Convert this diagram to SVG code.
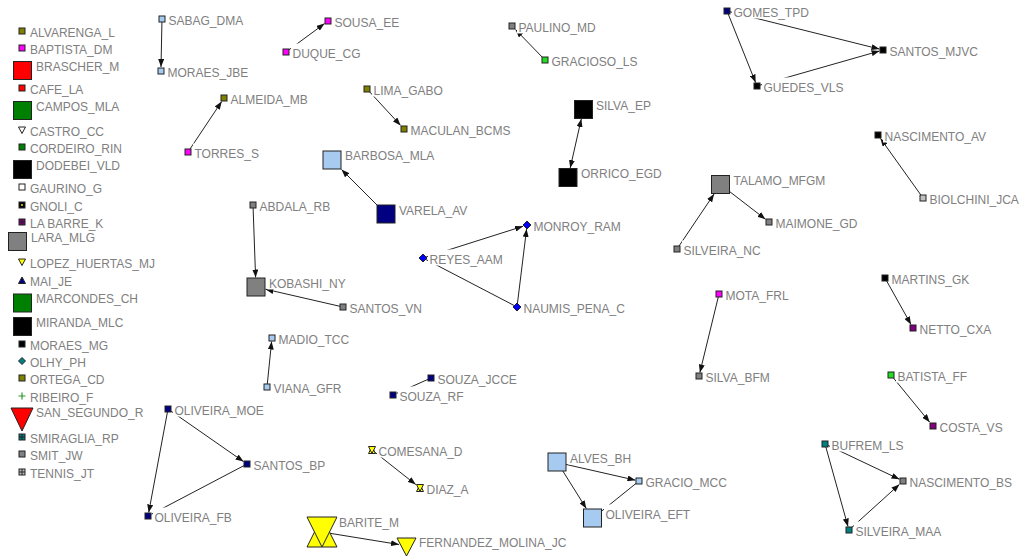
<svg xmlns="http://www.w3.org/2000/svg" width="1022" height="556" viewBox="0 0 1022 556">
<defs>
<marker id="ah" viewBox="0 0 8 6" markerWidth="8" markerHeight="6" refX="8" refY="3" markerUnits="userSpaceOnUse" orient="auto-start-reverse"><path d="M0,0 L8,3 L0,6 Z" fill="#111"/></marker>
</defs>
<style>
.t{font-family:"Liberation Sans",Arial,sans-serif;font-size:12px;fill:#808080}
.b{fill:#fff}
.n{stroke:#222;stroke-width:1}
.e{stroke:#222;stroke-width:1;fill:none}
.a{marker-end:url(#ah)}
.s{marker-start:url(#ah)}
.g{stroke:#222;stroke-width:1}
.lb{fill:#a6caf0}.nv{fill:#000080}.mg{fill:#ff00ff}.ol{fill:#808000}.gy{fill:#808080}.lg{fill:#c0c0c0}
.bk{fill:#000}.gr{fill:#22dd22}.pu{fill:#800080}.tl{fill:#008080}.bl{fill:#0000ff}.ye{fill:#ffff00}
.rd{fill:#ff0000}.dg{fill:#008000}.wh{fill:#fff}
</style>
<rect width="1022" height="556" fill="#fff"/>

<g id="connectors">
<line class="e a" x1="162" y1="19" x2="161" y2="67"/>
<line class="e a" x1="286" y1="52" x2="324.5" y2="23.6"/>
<line class="e a" x1="188" y1="152" x2="221.7" y2="101.5"/>
<line class="e a" x1="367" y1="89" x2="400.6" y2="125.4"/>
<line class="e a" x1="386" y1="214" x2="341.5" y2="169.5"/>
<line class="e a" x1="545" y1="60" x2="515.5" y2="29.6"/>
<line class="e a s" x1="581.3" y1="119" x2="570.2" y2="168"/>
<line class="e a" x1="727" y1="11" x2="879.5" y2="49.1"/>
<line class="e a" x1="727" y1="11" x2="755.6" y2="82.5"/>
<line class="e a" x1="757" y1="86" x2="879.5" y2="51"/>
<line class="e a" x1="923" y1="198" x2="880.5" y2="138.5"/>
<line class="e a" x1="720.5" y1="184.5" x2="765.5" y2="219.3"/>
<line class="e a" x1="677" y1="249" x2="714.1" y2="194"/>
<line class="e a" x1="253" y1="205" x2="255.6" y2="277.5"/>
<line class="e a" x1="343" y1="307" x2="265.5" y2="289.2"/>
<line class="e a" x1="423" y1="258" x2="523" y2="226.3"/>
<line class="e a" x1="517" y1="307" x2="526.6" y2="229"/>
<line class="e" x1="517" y1="307" x2="423" y2="258"/>
<line class="e a" x1="719" y1="294" x2="699.9" y2="372.5"/>
<line class="e a" x1="885" y1="278" x2="911" y2="324.5"/>
<line class="e a" x1="891" y1="375" x2="929.7" y2="422.2"/>
<line class="e a" x1="825" y1="444" x2="899.5" y2="479.3"/>
<line class="e a" x1="825" y1="444" x2="848" y2="526.5"/>
<line class="e a" x1="849" y1="530" x2="899.4" y2="484.4"/>
<line class="e a" x1="267" y1="387" x2="271.6" y2="341.5"/>
<line class="e" x1="431" y1="378" x2="396.5" y2="393.4"/>
<line class="e a" x1="168" y1="409" x2="148.7" y2="512.5"/>
<line class="e a" x1="168" y1="409" x2="243.5" y2="461.6"/>
<line class="e" x1="247" y1="464" x2="151.5" y2="514.2"/>
<line class="e a" x1="372" y1="450" x2="415.8" y2="484.6"/>
<line class="e a" x1="322" y1="532" x2="399" y2="544.5"/>
<line class="e a" x1="557.5" y1="462.5" x2="635.5" y2="480.2"/>
<line class="e a" x1="557.5" y1="462.5" x2="586.3" y2="508.5"/>
<line class="e" x1="639" y1="481" x2="602" y2="510.8"/>
</g>

<g id="legend">
<g id="ALVARENGA_L"><rect class="n ol" x="19" y="28" width="6" height="6"/><text class="t" x="30" y="36.5">ALVARENGA_L</text></g>
<g id="BAPTISTA_DM"><rect class="n mg" x="19" y="45" width="6" height="6"/><text class="t" x="30" y="53.5">BAPTISTA_DM</text></g>
<g id="BRASCHER_M"><rect class="n rd" x="13.5" y="61.5" width="18" height="18"/><text class="t" x="36" y="70.5">BRASCHER_M</text></g>
<g id="CAFE_LA"><rect class="n rd" x="19" y="85" width="6" height="6"/><text class="t" x="30" y="93.5">CAFE_LA</text></g>
<g id="CAMPOS_MLA"><rect class="n dg" x="13.5" y="101.5" width="18" height="18"/><text class="t" x="36" y="110.5">CAMPOS_MLA</text></g>
<g id="CASTRO_CC"><polygon class="n wh" points="18.5,127 25.5,127 22,133.5"/><text class="t" x="30" y="135.5">CASTRO_CC</text></g>
<g id="CORDEIRO_RIN"><rect class="n dg" x="19" y="144" width="6" height="6"/><text class="t" x="30" y="152.5">CORDEIRO_RIN</text></g>
<g id="DODEBEI_VLD"><rect class="n bk" x="13.5" y="160.5" width="18" height="18"/><text class="t" x="36" y="169.5">DODEBEI_VLD</text></g>
<g id="GAURINO_G"><rect class="n wh" x="19" y="184" width="6" height="6"/><text class="t" x="30" y="192.5">GAURINO_G</text></g>
<g id="GNOLI_C"><rect class="n bk" x="19" y="202" width="6" height="6"/><rect x="21" y="204" width="2" height="2" fill="#b0b000"/><text class="t" x="30" y="210.5">GNOLI_C</text></g>
<g id="LA_BARRE_K"><rect class="n pu" x="19" y="219" width="6" height="6"/><path class="g" d="M22,219V225M19,222H25"/><text class="t" x="30" y="227.5">LA BARRE_K</text></g>
<g id="LARA_MLG"><rect class="n gy" x="8.5" y="232.5" width="18" height="18"/><text class="t" x="31" y="241.5">LARA_MLG</text></g>
<g id="LOPEZ_HUERTAS_MJ"><polygon class="n ye" points="18.5,259 25.5,259 22,265.5"/><text class="t" x="30" y="267.5">LOPEZ_HUERTAS_MJ</text></g>
<g id="MAI_JE"><polygon class="n nv" points="18.5,283.5 25.5,283.5 22,277"/><text class="t" x="30" y="285.5">MAI_JE</text></g>
<g id="MARCONDES_CH"><rect class="n dg" x="13.5" y="294" width="18" height="18"/><text class="t" x="36" y="303">MARCONDES_CH</text></g>
<g id="MIRANDA_MLC"><rect class="n bk" x="13.5" y="317.5" width="18" height="18"/><text class="t" x="36" y="326.5">MIRANDA_MLC</text></g>
<g id="MORAES_MG"><rect class="n bk" x="19" y="341" width="6" height="6"/><text class="t" x="30" y="349.5">MORAES_MG</text></g>
<g id="OLHY_PH"><polygon class="n tl" points="22,357.5 25.5,361 22,364.5 18.5,361"/><text class="t" x="30" y="366.5">OLHY_PH</text></g>
<g id="ORTEGA_CD"><rect class="n ol" x="19" y="375" width="6" height="6"/><text class="t" x="30" y="383.5">ORTEGA_CD</text></g>
<g id="RIBEIRO_F"><path d="M22,392.5V399.5M18.5,396H25.5" stroke="#2a9a2a" stroke-width="1.2"/><text class="t" x="30" y="401.5">RIBEIRO_F</text></g>
<g id="SAN_SEGUNDO_R"><polygon class="n rd" points="11,408 33,408 22,431"/><text class="t" x="36" y="417">SAN_SEGUNDO_R</text></g>
<g id="SMIRAGLIA_RP"><rect class="n tl" x="19" y="434" width="6" height="6"/><path class="g" d="M22,434V440M19,437H25"/><text class="t" x="30" y="442.5">SMIRAGLIA_RP</text></g>
<g id="SMIT_JW"><rect class="n gy" x="19" y="451" width="6" height="6"/><text class="t" x="30" y="459.5">SMIT_JW</text></g>
<g id="TENNIS_JT"><rect class="n lg" x="19" y="469" width="6" height="6"/><path class="g" d="M22,469V475M19,472H25"/><text class="t" x="30" y="477.5">TENNIS_JT</text></g>
</g>

<g id="nodes">
<g id="SABAG_DMA"><rect class="n lb" x="159" y="16" width="6" height="6"/><rect class="b" x="167" y="10.5" width="70.5" height="16"/><text class="t" x="168.5" y="24.5">SABAG_DMA</text></g>
<g id="MORAES_JBE"><rect class="n lb" x="158" y="68" width="6" height="6"/><rect class="b" x="166" y="62.5" width="78" height="16"/><text class="t" x="167.5" y="76.5">MORAES_JBE</text></g>
<g id="SOUSA_EE"><rect class="n mg" x="325" y="18" width="6" height="6"/><rect class="b" x="333" y="12.5" width="63" height="16"/><text class="t" x="334.5" y="26.5">SOUSA_EE</text></g>
<g id="DUQUE_CG"><rect class="n mg" x="283" y="49" width="6" height="6"/><rect class="b" x="291" y="43.5" width="63" height="16"/><text class="t" x="292.5" y="57.5">DUQUE_CG</text></g>
<g id="ALMEIDA_MB"><rect class="n ol" x="221" y="95" width="6" height="6"/><rect class="b" x="229" y="89.5" width="78" height="16"/><text class="t" x="230.5" y="103.5">ALMEIDA_MB</text></g>
<g id="TORRES_S"><rect class="n mg" x="185" y="149" width="6" height="6"/><rect class="b" x="193" y="143.5" width="63" height="16"/><text class="t" x="194.5" y="157.5">TORRES_S</text></g>
<g id="LIMA_GABO"><rect class="n ol" x="364" y="86" width="6" height="6"/><rect class="b" x="372" y="80.5" width="70.5" height="16"/><text class="t" x="373.5" y="94.5">LIMA_GABO</text></g>
<g id="MACULAN_BCMS"><rect class="n ol" x="401" y="126" width="6" height="6"/><rect class="b" x="409" y="120.5" width="93" height="16"/><text class="t" x="410.5" y="134.5">MACULAN_BCMS</text></g>
<g id="BARBOSA_MLA"><rect class="n lb" x="323" y="151" width="18" height="18"/><rect class="b" x="343.5" y="146.3" width="85.5" height="16"/><text class="t" x="345" y="160.3">BARBOSA_MLA</text></g>
<g id="VARELA_AV"><rect class="n nv" x="377" y="205" width="18" height="18"/><rect class="b" x="397.5" y="200.5" width="70.5" height="16"/><text class="t" x="399" y="214.5">VARELA_AV</text></g>
<g id="PAULINO_MD"><rect class="n gy" x="509" y="23" width="6" height="6"/><rect class="b" x="517" y="17.5" width="78" height="16"/><text class="t" x="518.5" y="31.5">PAULINO_MD</text></g>
<g id="GRACIOSO_LS"><rect class="n gr" x="542" y="57" width="6" height="6"/><rect class="b" x="550" y="51.5" width="85.5" height="16"/><text class="t" x="551.5" y="65.5">GRACIOSO_LS</text></g>
<g id="SILVA_EP"><rect class="n bk" x="574.5" y="100.5" width="18" height="18"/><rect class="b" x="594.5" y="96" width="63" height="16"/><text class="t" x="596" y="110">SILVA_EP</text></g>
<g id="ORRICO_EGD"><rect class="n bk" x="559" y="168.5" width="18" height="18"/><rect class="b" x="579.5" y="164" width="78" height="16"/><text class="t" x="581" y="178">ORRICO_EGD</text></g>
<g id="GOMES_TPD"><rect class="n nv" x="724" y="8" width="6" height="6"/><rect class="b" x="732" y="2.5" width="70.5" height="16"/><text class="t" x="733.5" y="16.5">GOMES_TPD</text></g>
<g id="SANTOS_MJVC"><rect class="n bk" x="880" y="47" width="6" height="6"/><rect class="b" x="888" y="41.5" width="85.5" height="16"/><text class="t" x="889.5" y="55.5">SANTOS_MJVC</text></g>
<g id="GUEDES_VLS"><rect class="n bk" x="754" y="83" width="6" height="6"/><rect class="b" x="762" y="77.5" width="78" height="16"/><text class="t" x="763.5" y="91.5">GUEDES_VLS</text></g>
<g id="NASCIMENTO_AV"><rect class="n bk" x="875" y="132" width="6" height="6"/><rect class="b" x="883" y="126.5" width="100.5" height="16"/><text class="t" x="884.5" y="140.5">NASCIMENTO_AV</text></g>
<g id="BIOLCHINI_JCA"><rect class="n lg" x="920" y="195" width="6" height="6"/><rect class="b" x="928" y="189.5" width="94" height="16"/><text class="t" x="929.5" y="203.5">BIOLCHINI_JCA</text></g>
<g id="TALAMO_MFGM"><rect class="n gy" x="711.5" y="175.5" width="18" height="18"/><rect class="b" x="732" y="171" width="85.5" height="16"/><text class="t" x="733.5" y="185">TALAMO_MFGM</text></g>
<g id="MAIMONE_GD"><rect class="n gy" x="766" y="219" width="6" height="6"/><rect class="b" x="774" y="213.5" width="78" height="16"/><text class="t" x="775.5" y="227.5">MAIMONE_GD</text></g>
<g id="SILVEIRA_NC"><rect class="n gy" x="674" y="246" width="6" height="6"/><rect class="b" x="682" y="240.5" width="85.5" height="16"/><text class="t" x="683.5" y="254.5">SILVEIRA_NC</text></g>
<g id="ABDALA_RB"><rect class="n gy" x="250" y="202" width="6" height="6"/><rect class="b" x="258" y="196.5" width="70.5" height="16"/><text class="t" x="259.5" y="210.5">ABDALA_RB</text></g>
<g id="KOBASHI_NY"><rect class="n gy" x="247" y="278" width="18" height="18"/><rect class="b" x="267.5" y="273.5" width="78" height="16"/><text class="t" x="269" y="287.5">KOBASHI_NY</text></g>
<g id="SANTOS_VN"><rect class="n gy" x="340" y="304" width="6" height="6"/><rect class="b" x="348" y="298.5" width="70.5" height="16"/><text class="t" x="349.5" y="312.5">SANTOS_VN</text></g>
<g id="REYES_AAM"><polygon class="n bl" points="423,254 427,258 423,262 419,258"/><rect class="b" x="428" y="249.5" width="70.5" height="16"/><text class="t" x="429.5" y="263.5">REYES_AAM</text></g>
<g id="MONROY_RAM"><polygon class="n bl" points="527,221 531,225 527,229 523,225"/><rect class="b" x="532" y="216.5" width="78" height="16"/><text class="t" x="533.5" y="230.5">MONROY_RAM</text></g>
<g id="NAUMIS_PENA_C"><polygon class="n bl" points="517,303 521,307 517,311 513,307"/><rect class="b" x="522" y="298.5" width="100.5" height="16"/><text class="t" x="523.5" y="312.5">NAUMIS_PENA_C</text></g>
<g id="MOTA_FRL"><rect class="n mg" x="716" y="291" width="6" height="6"/><rect class="b" x="724" y="285.5" width="63" height="16"/><text class="t" x="725.5" y="299.5">MOTA_FRL</text></g>
<g id="SILVA_BFM"><rect class="n gy" x="696" y="373" width="6" height="6"/><rect class="b" x="704" y="367.5" width="70.5" height="16"/><text class="t" x="705.5" y="381.5">SILVA_BFM</text></g>
<g id="MARTINS_GK"><rect class="n bk" x="882" y="275" width="6" height="6"/><rect class="b" x="890" y="269.5" width="78" height="16"/><text class="t" x="891.5" y="283.5">MARTINS_GK</text></g>
<g id="NETTO_CXA"><rect class="n pu" x="910" y="325" width="6" height="6"/><rect class="b" x="918" y="319.5" width="70.5" height="16"/><text class="t" x="919.5" y="333.5">NETTO_CXA</text></g>
<g id="BATISTA_FF"><rect class="n gr" x="888" y="372" width="6" height="6"/><rect class="b" x="896" y="366.5" width="78" height="16"/><text class="t" x="897.5" y="380.5">BATISTA_FF</text></g>
<g id="COSTA_VS"><rect class="n pu" x="930" y="423" width="6" height="6"/><rect class="b" x="938" y="417.5" width="63" height="16"/><text class="t" x="939.5" y="431.5">COSTA_VS</text></g>
<g id="MADIO_TCC"><rect class="n lb" x="269" y="335" width="6" height="6"/><rect class="b" x="277" y="329.5" width="70.5" height="16"/><text class="t" x="278.5" y="343.5">MADIO_TCC</text></g>
<g id="VIANA_GFR"><rect class="n lb" x="264" y="384" width="6" height="6"/><rect class="b" x="272" y="378.5" width="70.5" height="16"/><text class="t" x="273.5" y="392.5">VIANA_GFR</text></g>
<g id="SOUZA_JCCE"><rect class="n nv" x="428" y="375" width="6" height="6"/><rect class="b" x="436" y="369.5" width="78" height="16"/><text class="t" x="437.5" y="383.5">SOUZA_JCCE</text></g>
<g id="SOUZA_RF"><rect class="n nv" x="390" y="392" width="6" height="6"/><rect class="b" x="398" y="386.5" width="63" height="16"/><text class="t" x="399.5" y="400.5">SOUZA_RF</text></g>
<g id="OLIVEIRA_MOE"><rect class="n nv" x="165" y="406" width="6" height="6"/><rect class="b" x="173" y="400.5" width="93" height="16"/><text class="t" x="174.5" y="414.5">OLIVEIRA_MOE</text></g>
<g id="SANTOS_BP"><rect class="n nv" x="244" y="461" width="6" height="6"/><rect class="b" x="252" y="455.5" width="70.5" height="16"/><text class="t" x="253.5" y="469.5">SANTOS_BP</text></g>
<g id="OLIVEIRA_FB"><rect class="n nv" x="145" y="513" width="6" height="6"/><rect class="b" x="153" y="507.5" width="85.5" height="16"/><text class="t" x="154.5" y="521.5">OLIVEIRA_FB</text></g>
<g id="COMESANA_D"><polygon class="n ye" points="368.5,453.5 375.5,453.5 372,446.5"/><polygon class="n ye" points="368.5,446.5 375.5,446.5 372,453.5"/><rect class="b" x="377" y="441.5" width="78" height="16"/><text class="t" x="378.5" y="455.5">COMESANA_D</text></g>
<g id="DIAZ_A"><polygon class="n ye" points="416.5,491.5 423.5,491.5 420,484.5"/><polygon class="n ye" points="416.5,484.5 423.5,484.5 420,491.5"/><rect class="b" x="425" y="479.5" width="48" height="16"/><text class="t" x="426.5" y="493.5">DIAZ_A</text></g>
<g id="BARITE_M"><polygon class="n ye" points="307,547 337,547 322,517"/><polygon class="n ye" points="307,517 337,517 322,547"/><rect class="b" x="337.5" y="512.5" width="63" height="16"/><text class="t" x="339" y="526.5">BARITE_M</text></g>
<g id="FERNANDEZ_MOLINA_JC"><polygon class="n ye" points="397,538 416,538 406.5,556"/><rect class="b" x="417.5" y="533" width="145.5" height="16"/><text class="t" x="419" y="547">FERNANDEZ_MOLINA_JC</text></g>
<g id="ALVES_BH"><rect class="n lb" x="548" y="453" width="18" height="18"/><rect class="b" x="568.5" y="448.5" width="63" height="16"/><text class="t" x="570" y="462.5">ALVES_BH</text></g>
<g id="GRACIO_MCC"><rect class="n lb" x="636" y="478" width="6" height="6"/><rect class="b" x="644" y="472.5" width="78" height="16"/><text class="t" x="645.5" y="486.5">GRACIO_MCC</text></g>
<g id="OLIVEIRA_EFT"><rect class="n lb" x="583.5" y="509" width="18" height="18"/><rect class="b" x="604" y="504.5" width="93" height="16"/><text class="t" x="605.5" y="518.5">OLIVEIRA_EFT</text></g>
<g id="BUFREM_LS"><rect class="n tl" x="822" y="441" width="6" height="6"/><rect class="b" x="830" y="435.5" width="70.5" height="16"/><text class="t" x="831.5" y="449.5">BUFREM_LS</text></g>
<g id="NASCIMENTO_BS"><rect class="n gy" x="900" y="478" width="6" height="6"/><rect class="b" x="908" y="472.5" width="100.5" height="16"/><text class="t" x="909.5" y="486.5">NASCIMENTO_BS</text></g>
<g id="SILVEIRA_MAA"><rect class="n tl" x="846" y="527" width="6" height="6"/><rect class="b" x="854" y="521.5" width="93" height="16"/><text class="t" x="855.5" y="535.5">SILVEIRA_MAA</text></g>
</g>
</svg>
